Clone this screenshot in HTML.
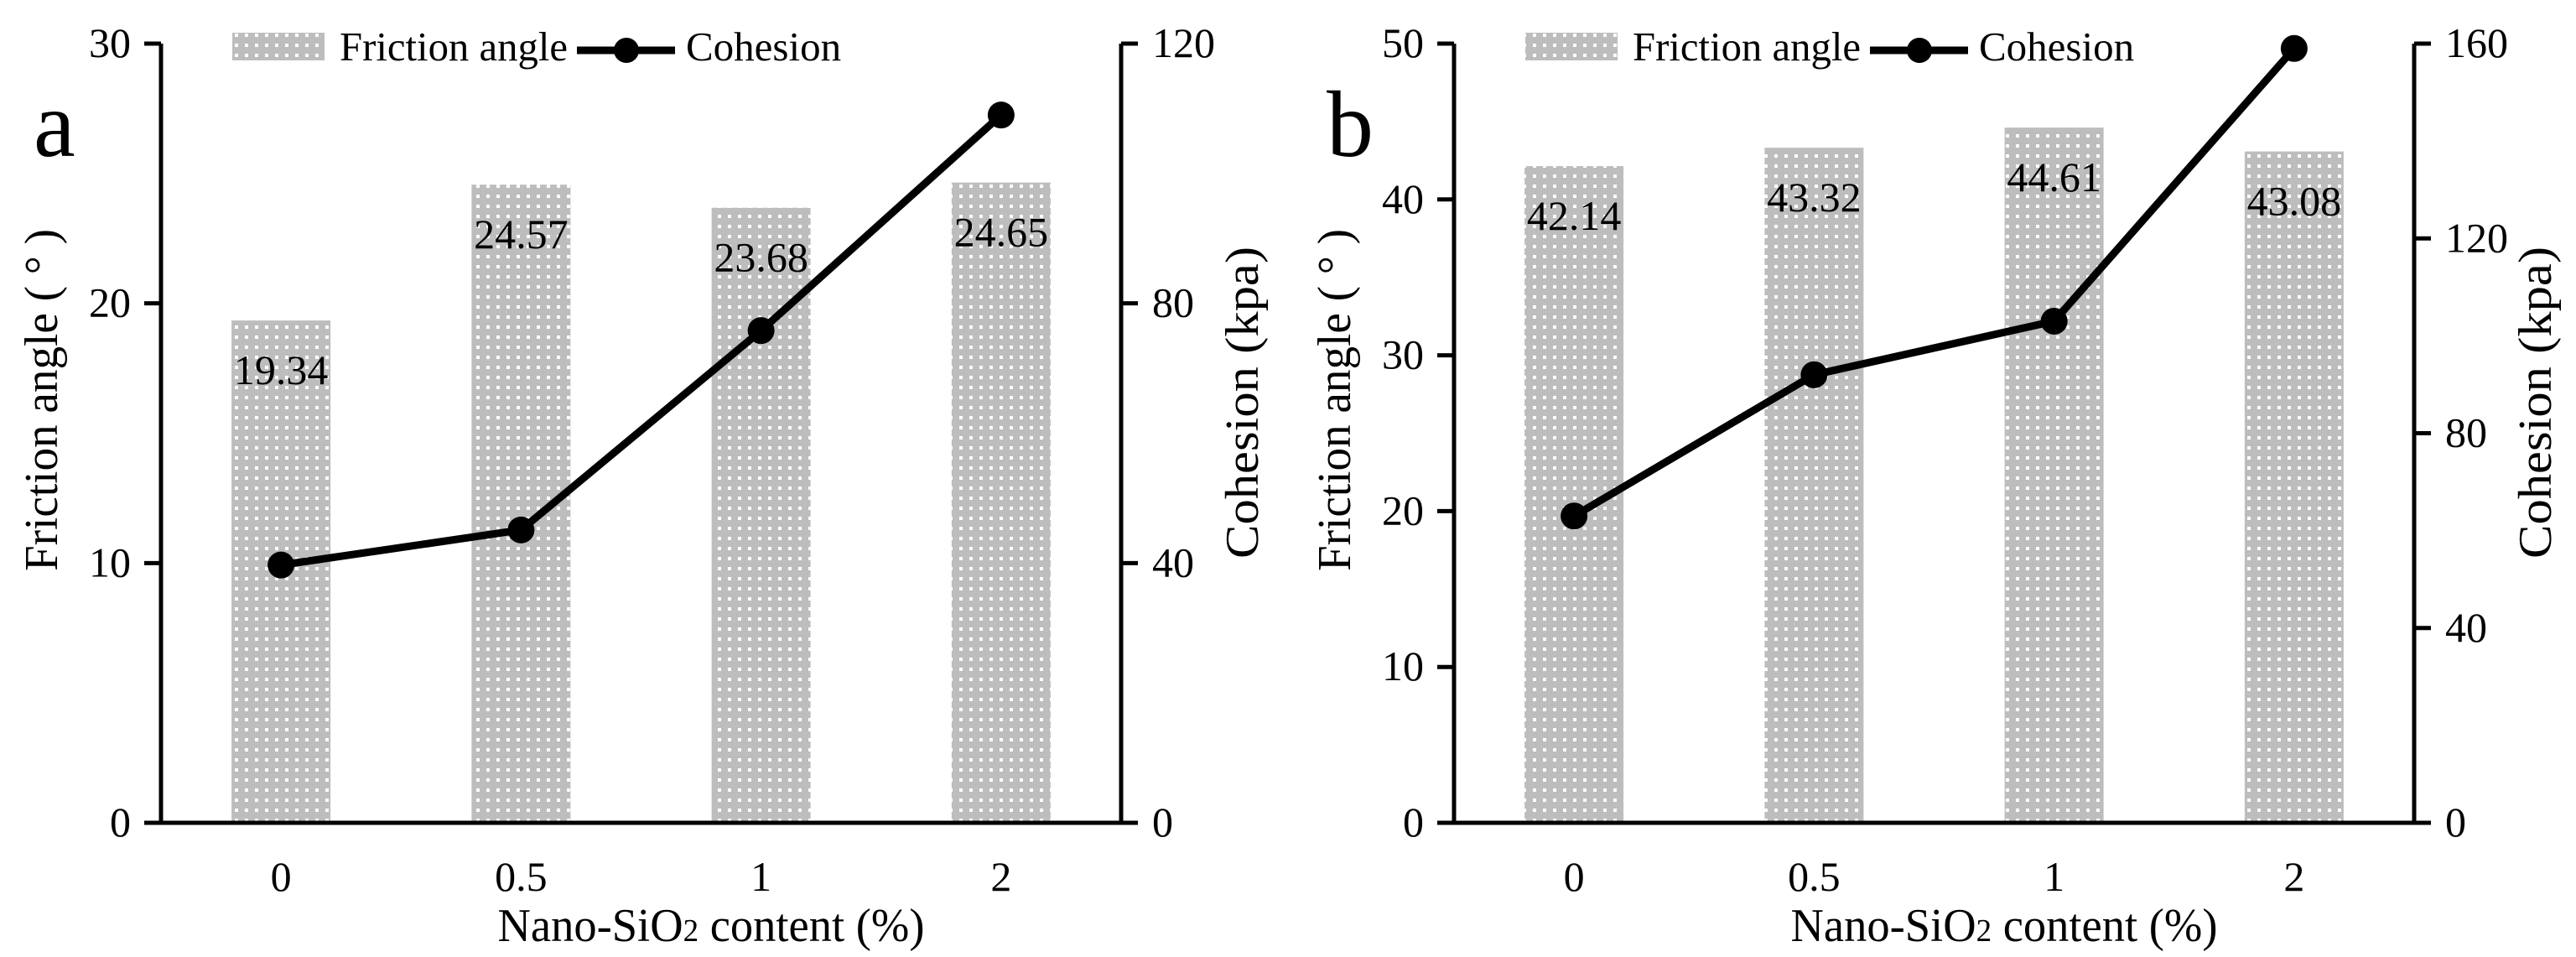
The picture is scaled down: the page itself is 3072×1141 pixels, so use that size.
<!DOCTYPE html>
<html><head><meta charset="utf-8"><style>
html,body{margin:0;padding:0;background:#fff;}
svg, svg text{font-family:"Liberation Serif","DejaVu Serif","Times New Roman",serif;}
svg{display:block;}
</style></head><body>
<svg id="chart" width="3072" height="1141" viewBox="0 0 3072 1141" xmlns="http://www.w3.org/2000/svg" font-family="Liberation Serif, DejaVu Serif, serif">
<defs>
<pattern id="dots" width="12" height="12" patternUnits="userSpaceOnUse">
<rect width="12" height="12" fill="#bdbdbd"/><rect x="4" y="4" width="4" height="4" fill="#fff"/>
</pattern>
</defs>
</svg>
<script>
const categories = ["0", "0.5", "1", "2"];
const frictionA = [19.34, 24.57, 23.68, 24.65];
const cohesionA = [39.7, 45.1, 75.8, 109];
const frictionB = [42.14, 43.32, 44.61, 43.08];
const cohesionB = [63, 92, 103, 159];
const leftTicksA = [0, 10, 20, 30];
const rightTicksA = [0, 40, 80, 120];
const leftTicksB = [0, 10, 20, 30, 40, 50];
const rightTicksB = [0, 40, 80, 120, 160];

const svg = document.getElementById('chart');
const NS = 'http://www.w3.org/2000/svg';
function mk(tag, attrs, parent) {
  const e = document.createElementNS(NS, tag);
  for (const k in attrs) e.setAttribute(k, attrs[k]);
  (parent || svg).appendChild(e);
  return e;
}
function txt(str, attrs, parent) {
  const e = mk('text', attrs, parent);
  e.setAttribute('font-family', 'Liberation Serif, DejaVu Serif, serif');
  e.textContent = str;
  return e;
}

function drawPanel(ox, letter, fric, coh, lTicks, rTicks, lMax, rMax, pname) {
  const g = mk('g', {});
  
  
  const L = 192 + ox, R = 1337 + ox, T = 52, B = 981;
  const catW = (R - L) / categories.length;
  const xc = i => L + catW * (i + 0.5);
  const yl = v => B - (v / lMax) * (B - T);
  const yr = v => B - (v / rMax) * (B - T);

  fric.forEach((v, i) => {
    const b = mk('rect', {x: xc(i) - 59, y: yl(v), width: 118, height: B - yl(v), fill: 'url(#dots)'}, g);
    
    
    const t = txt(v.toFixed(2), {x: xc(i), y: yl(v) + 76, 'font-size': 50, 'text-anchor': 'middle', fill: '#000'}, g);
    
    
  });

  const ax = mk('path', {d: `M${L},${T}V${B}M${R},${T}V${B}M${L - 20},${B}H${R + 20}`, stroke: '#000', 'stroke-width': 5, fill: 'none'}, g);
  
  

  lTicks.forEach(v => {
    const tk = mk('line', {x1: L - 20, x2: L, y1: yl(v), y2: yl(v), stroke: '#000', 'stroke-width': 5}, g);
    
    
    const t = txt(String(v), {x: L - 36, y: yl(v) + 16, 'font-size': 50, 'text-anchor': 'end'}, g);
    
    
  });
  rTicks.forEach(v => {
    const tk = mk('line', {x1: R, x2: R + 20, y1: yr(v), y2: yr(v), stroke: '#000', 'stroke-width': 5}, g);
    
    
    const t = txt(String(v), {x: R + 37, y: yr(v) + 16, 'font-size': 50, 'text-anchor': 'start'}, g);
    
    
  });
  categories.forEach((c, i) => {
    const t = txt(c, {x: xc(i), y: 1062, 'font-size': 50, 'text-anchor': 'middle'}, g);
    
    
  });

  const pts = coh.map((v, i) => xc(i) + ',' + yr(v)).join(' ');
  const pl = mk('polyline', {points: pts, fill: 'none', stroke: '#000', 'stroke-width': 9, 'stroke-linejoin': 'round'}, g);
  
  
  coh.forEach((v, i) => {
    const c = mk('circle', {cx: xc(i), cy: yr(v), r: 16, fill: '#000'}, g);
    
    
  });

  const xt = txt('', {x: 848 + ox, y: 1122, 'font-size': 56, 'text-anchor': 'middle', textLength: 509, lengthAdjust: 'spacingAndGlyphs'}, g);
  xt.innerHTML = 'Nano-SiO<tspan font-size="38">2</tspan> content (%)';
  
  
  const yt = txt('Friction angle ( ° )', {x: 0, y: 0, 'font-size': 56, 'text-anchor': 'middle', textLength: 408, lengthAdjust: 'spacingAndGlyphs', transform: `translate(${68 + ox},477) rotate(-90)`}, g);
  
  
  const rt = txt('Cohesion (kpa)', {x: 0, y: 0, 'font-size': 56, 'text-anchor': 'middle', textLength: 372, lengthAdjust: 'spacingAndGlyphs', transform: `translate(${1500 + ox},480) rotate(-90)`}, g);
  
  
  const lt = txt(letter, {x: 40 + ox, y: 186, 'font-size': 112}, g);
  
  

  const lg = mk('g', {}, g);
  
  
  const lp = mk('rect', {x: 277 + ox, y: 39, width: 110, height: 33, fill: 'url(#dots)'}, lg);
  
  
  const l1 = txt('Friction angle', {x: 405 + ox, y: 72, 'font-size': 49, textLength: 272, lengthAdjust: 'spacingAndGlyphs'}, lg);
  
  
  const ll = mk('line', {x1: 688 + ox, x2: 805 + ox, y1: 60, y2: 60, stroke: '#000', 'stroke-width': 9}, lg);
  
  
  const lc = mk('circle', {cx: 747 + ox, cy: 60, r: 15, fill: '#000'}, lg);
  
  
  const l2 = txt('Cohesion', {x: 818 + ox, y: 72, 'font-size': 49}, lg);
  
  
}

drawPanel(0, 'a', frictionA, cohesionA, leftTicksA, rightTicksA, 30, 120, 'panel-a');
drawPanel(1542, 'b', frictionB, cohesionB, leftTicksB, rightTicksB, 50, 160, 'panel-b');
</script>
</body></html>
